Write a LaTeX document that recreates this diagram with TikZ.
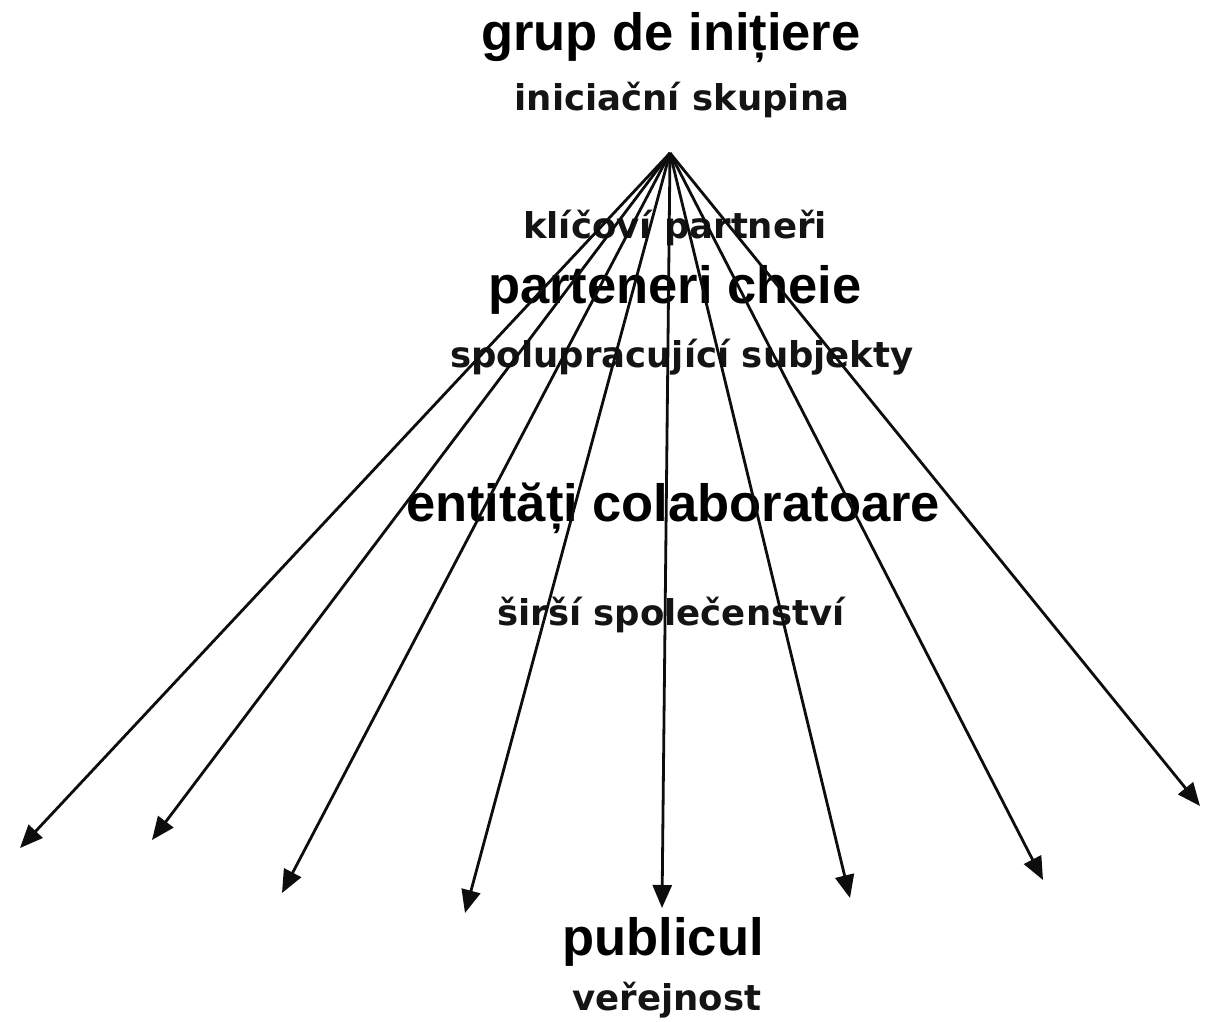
\documentclass[tikz,border=0pt]{standalone}
\usepackage{fontspec}
\setmainfont{Liberation Sans}
\newfontfamily\czfont{DejaVu Sans}
\usetikzlibrary{arrows.meta}
\tikzset{
  rolabel/.style={anchor=base, inner sep=0pt, font=\fontsize{52.5}{56}\selectfont\bfseries, text=black},
  czlabel/.style={anchor=base, inner sep=0pt, font=\czfont\fontsize{35.5}{38}\selectfont\bfseries, text=black!92},
  ray/.style={line width=2.8pt, draw=black!95, -{Triangle[length=23pt,width=19pt]}}
}
\begin{document}
\begin{tikzpicture}[x=1pt,y=-1pt]
\useasboundingbox (0,0) rectangle (1210,1021);
\fill[white] (0,0) rectangle (1210,1021);
% labels
\node[rolabel] (ro1) at (671,50) {grup de inițiere};
\node[czlabel] (cz1) at (682,110) {iniciační skupina};
\node[czlabel] (cz2) at (675,238) {klíčoví partneři};
\node[rolabel] (ro2) at (675,303) {parteneri cheie};
\node[czlabel] (cz3) at (682,367) {spolupracující subjekty};
\node[rolabel] (ro3) at (673,521) {entități colaboratoare};
\node[czlabel] (cz4) at (671,625) {širší společenství};
\node[rolabel] (ro4) at (663,955) {publicul};
\node[czlabel] (cz5) at (667,1010) {veřejnost};
% rays
\coordinate (src) at (670,153);
\coordinate (t1) at (20,848);
\coordinate (t2) at (152,840);
\coordinate (t3) at (282,893);
\coordinate (t4) at (465,913);
\coordinate (t5) at (662,908);
\coordinate (t6) at (850,898);
\coordinate (t7) at (1043,880);
\coordinate (t8) at (1200,806);
\foreach \t in {t1,t2,t3,t4,t5,t6,t7,t8}
  \draw[ray] (src) -- (\t);
\end{tikzpicture}
\end{document}
